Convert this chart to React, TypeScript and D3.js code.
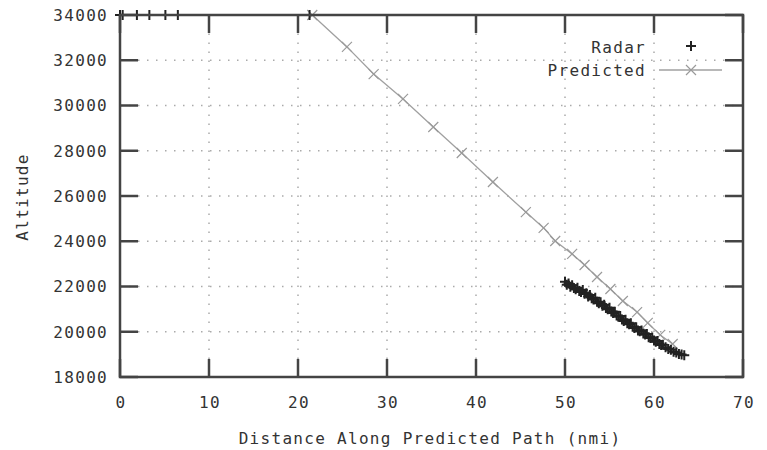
import * as d3 from "d3";
import React from "react";

const width = 767;
const height = 450;

// tick values
const xTicks = [0, 10, 20, 30, 40, 50, 60, 70];
const yTicks = [18000, 20000, 22000, 24000, 26000, 28000, 30000, 32000, 34000];

// predicted path (distance nmi, altitude ft)
const predDist = [21.6, 25.5, 28.5, 31.8, 35.2, 38.4, 41.9, 45.6, 47.6, 48.9, 50.8, 52.2, 53.6, 55.1, 56.5, 58.1, 59.3, 60.7, 62.1];
const predAlt = [34000, 32590, 31390, 30290, 29050, 27900, 26620, 25290, 24590, 24010, 23440, 22950, 22420, 21890, 21360, 20870, 20390, 19860, 19460];

// radar returns
const radarDist = [
  0, 0.3, 1.9, 3.3, 5.1, 6.5, 21.3,
  50.0, 50.2, 50.4, 50.6, 50.8, 51.0, 51.2, 51.4, 51.6, 51.8, 52.0, 52.2, 52.4, 52.6, 52.8,
  53.0, 53.2, 53.4, 53.6, 53.8, 54.0, 54.2, 54.4, 54.6, 54.8, 55.0, 55.2, 55.4, 55.6, 55.8,
  56.0, 56.2, 56.4, 56.6, 56.8, 57.0, 57.2, 57.4, 57.6, 57.8, 58.0, 58.2, 58.4, 58.6, 58.8,
  59.0, 59.2, 59.4, 59.6, 59.8, 60.0, 60.2, 60.4, 60.6, 60.8, 61.0, 61.3, 61.6, 61.9, 62.2,
  62.5, 62.8, 63.1, 63.4,
];
const radarAlt = [
  34000, 34000, 34000, 34000, 34000, 34000, 34000,
  22210, 22080, 22130, 21990, 22050, 21930, 21880, 21950, 21800, 21760, 21840, 21680, 21700, 21560, 21620,
  21480, 21420, 21500, 21330, 21260, 21300, 21150, 21190, 21050, 21000, 21060, 20900, 20830, 20880, 20720,
  20660, 20700, 20540, 20480, 20530, 20380, 20330, 20380, 20220, 20170, 20200, 20060, 20020, 20060, 19920,
  19880, 19900, 19760, 19720, 19750, 19610, 19560, 19590, 19460, 19410, 19430, 19320, 19240, 19200, 19120,
  19080, 19020, 18990, 18960,
];

const left = 120;
const right = 743;
const top = 15;
const bottom = 377;

const font = "'DejaVu Sans Mono', monospace";
const ink = "#333";

export default function App() {
  const x = d3.scaleLinear().domain([0, 70]).range([left, right]);
  const y = d3.scaleLinear().domain([18000, 34000]).range([bottom, top]);

  const line = d3
    .line<number>()
    .x((_, i) => x(predDist[i]))
    .y((_, i) => y(predAlt[i]));

  const plus = (cx: number, cy: number, k: string | number) => (
    <path key={k} d={`M${cx - 5},${cy}H${cx + 5}M${cx},${cy - 5}V${cy + 5}`} stroke="#222" strokeWidth={2} />
  );
  const cross = (cx: number, cy: number, k: string | number) => (
    <path key={k} d={`M${cx - 5},${cy - 5}L${cx + 5},${cy + 5}M${cx - 5},${cy + 5}L${cx + 5},${cy - 5}`} stroke="#9a9a9a" strokeWidth={1.2} />
  );

  const tickLen = 18;

  return (
    <svg width={width} height={height} style={{ position: "absolute", left: 0, top: 0, background: "#fff" }}>
      {/* grid */}
      <g stroke="#aaa" strokeWidth={1.5} strokeDasharray="1.5,7.5">
        {xTicks.slice(1, -1).map((t) => (
          <line key={"gx" + t} x1={x(t)} x2={x(t)} y1={bottom} y2={top} />
        ))}
        {yTicks.slice(1, -1).map((t) => (
          <line key={"gy" + t} x1={left} x2={right} y1={y(t)} y2={y(t)} />
        ))}
      </g>

      {/* ticks, mirrored */}
      <g stroke="#444" strokeWidth={2.5}>
        {xTicks.map((t) => (
          <g key={"tx" + t}>
            <line x1={x(t)} x2={x(t)} y1={bottom} y2={bottom - tickLen} />
            <line x1={x(t)} x2={x(t)} y1={top} y2={top + tickLen} />
          </g>
        ))}
        {yTicks.map((t) => (
          <g key={"ty" + t}>
            <line x1={left} x2={left + tickLen} y1={y(t)} y2={y(t)} />
            <line x1={right} x2={right - tickLen} y1={y(t)} y2={y(t)} />
          </g>
        ))}
      </g>

      {/* predicted */}
      <path d={line(predDist) ?? ""} fill="none" stroke="#a0a0a0" strokeWidth={1.3} />
      {predDist.map((d, i) => cross(x(d), y(predAlt[i]), "p" + i))}

      {/* radar */}
      {radarDist.map((d, i) => plus(x(d), y(radarAlt[i]), "r" + i))}

      {/* border */}
      <rect x={left} y={top} width={right - left} height={bottom - top} fill="none" stroke="#444" strokeWidth={2.5} />

      {/* tick labels */}
      <g fontFamily={font} fontSize={16} fill={ink} letterSpacing={1.3}>
        {yTicks.map((t) => (
          <text key={"ly" + t} x={108} y={y(t)} dy="0.36em" textAnchor="end">
            {t}
          </text>
        ))}
        {xTicks.map((t) => (
          <text key={"lx" + t} x={x(t) + 1} y={402} dy="0.36em" textAnchor="middle">
            {t}
          </text>
        ))}
        <text x={430} y={438} dy="0.36em" textAnchor="middle">
          Distance Along Predicted Path (nmi)
        </text>
        <text transform={`translate(22,197) rotate(-90)`} dy="0.36em" textAnchor="middle">
          Altitude
        </text>

        {/* legend */}
        <text x={646} y={47} dy="0.36em" textAnchor="end">
          Radar
        </text>
        <text x={646} y={70} dy="0.36em" textAnchor="end">
          Predicted
        </text>
      </g>
      {plus(691, 46, "leg-r")}
      <line x1={659} x2={722} y1={70} y2={70} stroke="#a0a0a0" strokeWidth={1.3} />
      {cross(691, 70, "leg-p")}
    </svg>
  );
}
